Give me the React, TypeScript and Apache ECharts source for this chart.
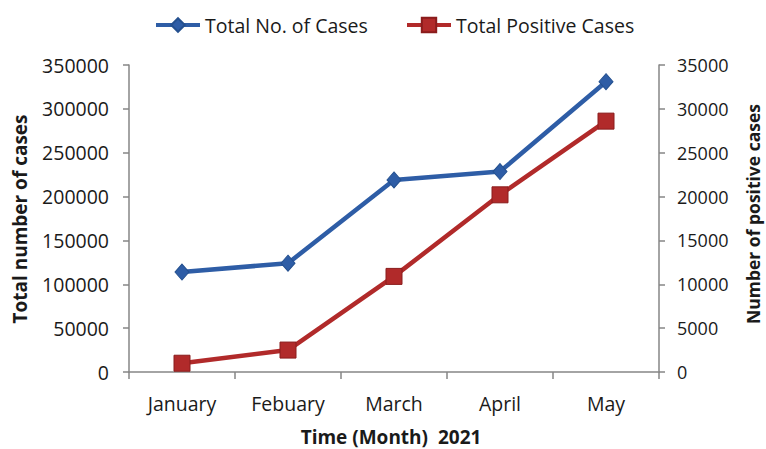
import React, { useEffect, useRef } from "react";
import * as echarts from "echarts";

const months = ["January", "Febuary", "March", "April", "May"];
const totalCases = [114000, 124000, 219000, 228500, 331000];
const positiveCases = [1000, 2500, 10900, 20200, 28600];
const seriesNames = ["Total No. of Cases", "Total Positive Cases"];
const xTitle = "Time (Month)  2021";
const leftTitle = "Total number of cases";
const rightTitle = "Number of positive cases";

const FONT = "'Open Sans', 'DejaVu Sans', sans-serif";
const TEXT = "#1a1a1a";
const AXIS = "#868686";
const BLUE = "#2E5DA6";
const RED = "#B12A2A";

export default function App() {
  const ref = useRef<HTMLDivElement>(null);
  useEffect(() => {
    document.body.style.margin = "0";
    if (!ref.current) return;
    const chart = echarts.init(ref.current, null, { renderer: "svg" });
    const axisCommon = {
      axisLine: { show: true, lineStyle: { color: AXIS, width: 1.5 } },
      axisTick: { show: true, length: 6, lineStyle: { color: AXIS, width: 1.5 } },
      splitLine: { show: false },
    };
    const plain = (v: number) => String(v);
    chart.setOption({
      animation: false,
      backgroundColor: "#ffffff",
      textStyle: { fontFamily: FONT, color: TEXT },
      grid: { left: 129, right: 107, top: 65, bottom: 77, containLabel: false },
      legend: [
        {
          data: [seriesNames[0]],
          left: 149,
          top: 10,
          itemWidth: 44,
          itemHeight: 17,
          lineStyle: { width: 4 },
          textStyle: { fontFamily: FONT, fontSize: 19.5, color: TEXT },
        },
        {
          data: [seriesNames[1]],
          left: 400,
          top: 10,
          itemWidth: 44,
          itemHeight: 18,
          lineStyle: { width: 4 },
          textStyle: { fontFamily: FONT, fontSize: 19.5, color: TEXT },
        },
      ],
      xAxis: {
        type: "category",
        data: months,
        boundaryGap: true,
        ...axisCommon,
        axisTick: { show: true, length: 7, alignWithLabel: false, lineStyle: { color: AXIS, width: 1.5 } },
        axisLabel: { fontFamily: FONT, fontSize: 19.5, color: TEXT, margin: 21 },
      },
      yAxis: [
        {
          type: "value",
          position: "left",
          min: 0,
          max: 350000,
          interval: 50000,
          ...axisCommon,
          axisLabel: { fontFamily: FONT, fontSize: 19.5, color: TEXT, margin: 20, formatter: plain },
        },
        {
          type: "value",
          position: "right",
          min: 0,
          max: 35000,
          interval: 5000,
          ...axisCommon,
          axisLabel: { fontFamily: FONT, fontSize: 18, color: TEXT, margin: 18, formatter: plain },
        },
      ],
      graphic: [
        {
          type: "text",
          x: 20,
          y: 219,
          rotation: Math.PI / 2,
          style: {
            text: leftTitle,
            fontFamily: FONT,
            fontWeight: "bold",
            fontSize: 19,
            fill: TEXT,
            align: "center",
            verticalAlign: "middle",
          },
        },
        {
          type: "text",
          x: 753,
          y: 214,
          rotation: Math.PI / 2,
          style: {
            text: rightTitle,
            fontFamily: FONT,
            fontWeight: "bold",
            fontSize: 17.5,
            fill: TEXT,
            align: "center",
            verticalAlign: "middle",
          },
        },
        {
          type: "text",
          x: 391,
          y: 437,
          style: {
            text: xTitle,
            fontFamily: FONT,
            fontWeight: "bold",
            fontSize: 19,
            fill: TEXT,
            align: "center",
            verticalAlign: "middle",
          },
        },
      ],
      series: [
        {
          name: seriesNames[0],
          type: "line",
          yAxisIndex: 0,
          data: totalCases,
          symbol: "diamond",
          symbolSize: [14, 16],
          lineStyle: { color: BLUE, width: 4.5 },
          itemStyle: { color: BLUE, borderColor: "#24508F", borderWidth: 1 },
        },
        {
          name: seriesNames[1],
          type: "line",
          yAxisIndex: 1,
          data: positiveCases,
          symbol: "rect",
          symbolSize: 16,
          lineStyle: { color: RED, width: 4.5 },
          itemStyle: { color: RED, borderColor: "#8A1C1C", borderWidth: 1 },
        },
      ],
    });
    return () => chart.dispose();
  }, []);
  return <div ref={ref} style={{ width: 766, height: 449 }} />;
}
